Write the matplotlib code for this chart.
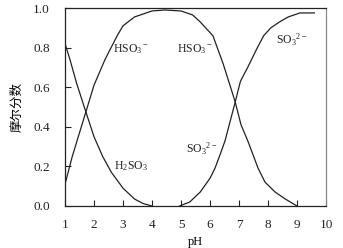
import matplotlib
matplotlib.use("Agg")
import matplotlib.pyplot as plt

plt.rcParams['font.family'] = ['Liberation Serif', 'Noto Sans CJK SC']
plt.rcParams['mathtext.fontset'] = 'custom'
plt.rcParams['mathtext.rm'] = 'Liberation Serif'
plt.rcParams['mathtext.it'] = 'Liberation Serif'
plt.rcParams['mathtext.default'] = 'rm'

# Data
ph_h2so3 = [1.0, 1.17, 1.4, 1.72, 2.0, 2.3, 2.6, 3.0, 3.4, 3.7, 4.0]
h2so3 = [0.82, 0.74, 0.62, 0.475, 0.35, 0.25, 0.17, 0.09, 0.035, 0.012, 0.0]

ph_hso3 = [1.0, 1.25, 1.5, 1.72, 2.0, 2.38, 2.8, 3.0, 3.4, 4.0, 4.45, 5.0, 5.4,
           5.66, 6.1, 6.45, 6.86, 7.07, 7.3, 7.66, 7.9, 8.25, 8.6, 9.0]
hso3 = [0.11, 0.25, 0.37, 0.475, 0.61, 0.74, 0.86, 0.91, 0.955, 0.985, 0.99,
        0.985, 0.965, 0.93, 0.86, 0.72, 0.53, 0.41, 0.33, 0.19, 0.12, 0.07,
        0.035, 0.0]

ph_so3 = [4.95, 5.3, 5.66, 6.0, 6.17, 6.35, 6.52, 6.86, 7.05, 7.3, 7.6, 7.85,
          8.1, 8.4, 8.7, 9.1, 9.6]
so3 = [0.0, 0.02, 0.07, 0.14, 0.19, 0.26, 0.33, 0.52, 0.63, 0.70, 0.79, 0.86,
       0.90, 0.93, 0.955, 0.975, 0.975]

xticks = [1, 2, 3, 4, 5, 6, 7, 8, 9, 10]
yticks = [0.0, 0.2, 0.4, 0.6, 0.8, 1.0]

labels = [
    ('HSO$_3$$^-$', 3.28, 0.79),
    ('HSO$_3$$^-$', 5.48, 0.79),
    ('H$_2$SO$_3$', 3.28, 0.20),
    ('SO$_3$$^{2-}$', 5.72, 0.29),
    ('SO$_3$$^{2-}$', 8.8, 0.84),
]

fig = plt.figure(figsize=(3.43, 2.48), dpi=100)
ax = fig.add_axes([65/343, 1-206/248, (326-65)/343, (206-8)/248])

lc = '#222222'
ax.plot(ph_h2so3, h2so3, color=lc, lw=0.9)
ax.plot(ph_hso3, hso3, color=lc, lw=0.9)
ax.plot(ph_so3, so3, color=lc, lw=0.9)

for txt, x, y in labels:
    ax.text(x, y, txt, ha='center', va='center', fontsize=8.5, color='#222222')

ax.set_xlim(1, 10)
ax.set_ylim(0, 1.0)
ax.set_xticks(xticks)
ax.set_xticklabels([str(t) for t in xticks])
ax.set_yticks(yticks)
ax.set_yticklabels([f'{t:.1f}' for t in yticks])
ax.tick_params(axis='both', direction='in', labelsize=9.5, length=4, width=0.8,
               colors='#222222')
ax.tick_params(axis='y', pad=11)
ax.tick_params(axis='x', pad=9)
for s in ['left', 'bottom', 'top']:
    ax.spines[s].set_color('#222222')
    ax.spines[s].set_linewidth(0.9)
ax.spines['right'].set_color('#888888')
ax.spines['right'].set_linewidth(0.9)

ax.set_xlabel('pH', fontsize=9, labelpad=4)
ax.set_ylabel('摩尔分数', fontsize=9, family=['Noto Sans CJK SC'], labelpad=7)

fig.savefig('out.png', dpi=100)
